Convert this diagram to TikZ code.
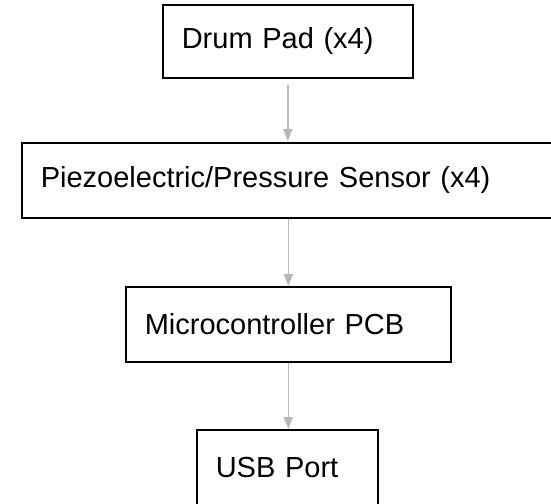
\documentclass[tikz,border=0pt]{standalone}
\usepackage{fontspec}
\setmainfont{Liberation Sans}
\usetikzlibrary{arrows.meta}
\definecolor{flowgray}{RGB}{183,183,183}
\begin{document}
\begin{tikzpicture}[x=1pt,y=-1pt,
  blockbox/.style={draw=black,line width=1.6pt,anchor=north west,inner xsep=19pt,inner ysep=0pt,align=left,font=\fontsize{29}{35}\selectfont},
  flow/.style={draw=flowgray,line width=1.5pt,-{Triangle[width=9pt,length=12pt]}}]
\clip (0,0) rectangle (551,503);
\node[blockbox,text width=212pt,minimum height=73pt] (pad) at (162,4) {Drum Pad (x4)};
\node[blockbox,text width=494pt,minimum height=75pt] (sensor) at (21,142) {Piezoelectric/Pressure Sensor (x4)};
\node[blockbox,text width=287pt,minimum height=75pt] (mcu) at (125,286) {Microcontroller PCB};
\node[blockbox,text width=143pt,minimum height=75pt] (usb) at (196,429) {USB Port};
\draw[flow][shorten <=6pt,shorten >=1pt] (pad.south) -- (pad.south |- sensor.north);
\draw[flow] (sensor.south -| mcu.north) -- (mcu.north);
\draw[flow] (mcu.south) -- (mcu.south |- usb.north);
\end{tikzpicture}
\end{document}
